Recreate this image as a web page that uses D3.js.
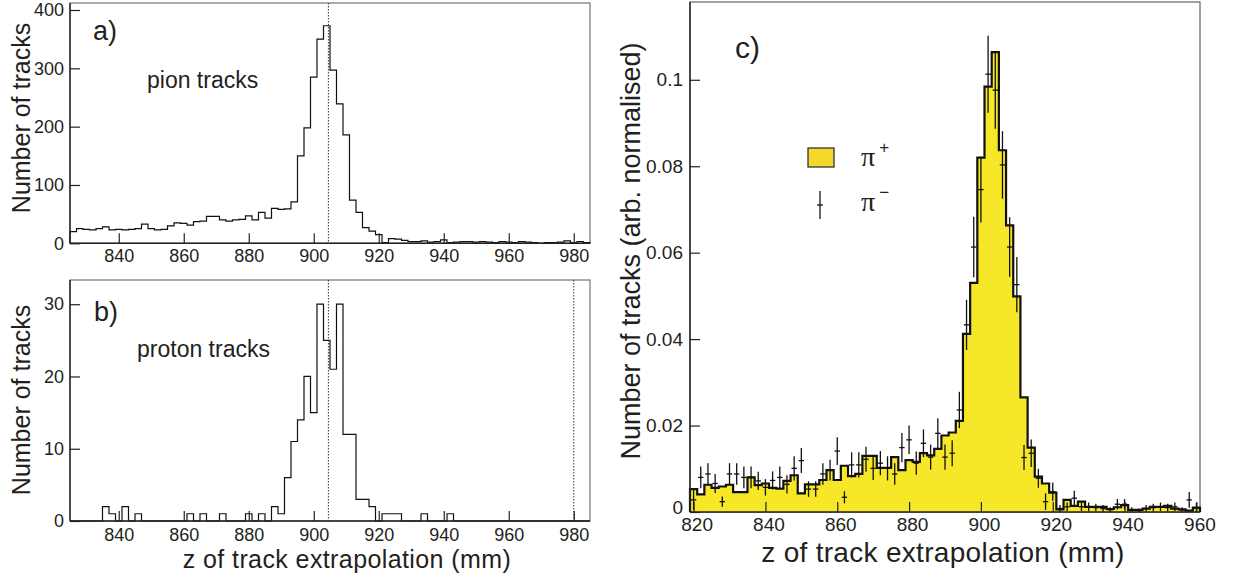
<!DOCTYPE html>
<html>
<head>
<meta charset="utf-8">
<script src="https://cdn.jsdelivr.net/npm/d3@7/dist/d3.min.js"></script>
<style>
    body { margin: 0; background: #fff; }
    text { font-family: "Liberation Sans", Arial, sans-serif; fill: #231f20; }
    .tick line { stroke: #222; stroke-width: 1.2; }
</style>
</head>
<body>
<svg id="chart" width="1235" height="578"></svg>
<script>

///////////  Data  ///////////

// Panels a) and b): 2 mm bins starting at 825 mm
var abBinStart = 825;
var binWidth = 2;

// a) pion tracks per bin
var pionCounts = [20, 25, 24, 23, 25, 28, 23, 24, 23, 24, 25, 33, 25, 23, 24, 30, 35, 34, 31, 37,
    38, 46, 46, 40, 38, 40, 41, 47, 40, 53, 43, 60, 58, 59, 71, 150, 198, 285, 350, 373,
    297, 239, 186, 74, 53, 27, 21, 15, 1, 8, 7, 5, 3, 3, 4, 2, 3, 6, 1, 2,
    3, 3, 2, 3, 2, 1, 3, 2, 1, 3, 2, 1, 0, 1, 1, 2, 4, 1, 3, 1];

// b) proton tracks per bin
var protonCounts = [0, 0, 0, 0, 0, 2, 1, 0, 2, 0, 1, 0, 0, 0, 0, 0, 0, 0, 1, 0,
    1, 0, 0, 1, 0, 0, 0, 1, 0, 1, 0, 2, 1, 6, 11, 14, 20, 15, 30, 25,
    21, 30, 12, 12, 3, 3, 2, 0, 1, 1, 1, 0, 0, 0, 1, 0, 0, 0, 1, 0,
    0, 0, 0, 0, 0, 0, 0, 0, 0, 0, 0, 0, 0, 0, 0, 0, 0, 0, 0, 0];

// Reference positions (dotted lines)
var aMarkers = [904.5];
var bMarkers = [904.5, 980];

// Panel c): 2 mm bins starting at 819 mm
var cBinStart = 819;

var piPlus = [0.0053, 0.0041, 0.0063, 0.0056, 0.0059, 0.0063, 0.0046, 0.0046, 0.0080, 0.0062,
    0.0066, 0.0056, 0.0054, 0.0072, 0.0085, 0.0043, 0.0064, 0.0064, 0.0074, 0.0097,
    0.0074, 0.0107, 0.0083, 0.0088, 0.0130, 0.0130, 0.0102, 0.0102, 0.0127, 0.0097,
    0.0120, 0.0116, 0.0136, 0.0131, 0.0146, 0.0177, 0.0184, 0.0211, 0.0412, 0.0530,
    0.0820, 0.0984, 0.1064, 0.0837, 0.0663, 0.0499, 0.0265, 0.0149, 0.0082, 0.0066,
    0.0045, 0.0006, 0.0028, 0.0014, 0.0024, 0.0012, 0.0012, 0.0012, 0.0007, 0.0011,
    0.0016, 0.0005, 0.0005, 0.0008, 0.0012, 0.0012, 0.0014, 0.0008, 0.0006, 0.0003, 0.0010];

var piMinus = [0.0028, 0.0080, 0.0088, 0.0066, 0.0024, 0.0088, 0.0088, 0.0080, 0.0080, 0.0072,
    0.0057, 0.0073, 0.0080, 0.0064, 0.0101, 0.0119, 0.0053, 0.0053, 0.0088, 0.0097,
    0.0141, 0.0034, 0.0109, 0.0109, 0.0122, 0.0101, 0.0113, 0.0101, 0.0088, 0.0149,
    0.0167, 0.0113, 0.0159, 0.0127, 0.0182, 0.0127, 0.0136, 0.0236, 0.0433, 0.0613,
    0.0746, 0.1013, 0.0976, 0.0803, 0.0613, 0.0526, 0.0126, 0.0136, 0.0078, 0.0024,
    0.0047, 0.0008, 0.0012, 0.0032, 0.0012, 0.0012, 0.0010, 0.0008, 0.0005, 0.0018,
    0.0018, 0.0005, 0.0003, 0.0008, 0.0010, 0.0012, 0.0010, 0.0012, 0.0005, 0.0028, 0.0009];

var piMinusErr = [0.0023, 0.0025, 0.0025, 0.0022, 0.0012, 0.0025, 0.0025, 0.0025, 0.0025, 0.0021,
    0.0019, 0.0021, 0.0025, 0.0021, 0.0028, 0.0029, 0.0018, 0.0018, 0.0025, 0.0024,
    0.0032, 0.0014, 0.0029, 0.0029, 0.0029, 0.0027, 0.0028, 0.0028, 0.0025, 0.0034,
    0.0033, 0.0027, 0.0032, 0.0029, 0.0035, 0.0029, 0.0030, 0.0042, 0.0058, 0.0070,
    0.0076, 0.0089, 0.0089, 0.0078, 0.0069, 0.0064, 0.0029, 0.0032, 0.0022, 0.0019,
    0.0021, 0.0008, 0.0010, 0.0017, 0.0010, 0.0010, 0.0009, 0.0008, 0.0006, 0.0012,
    0.0012, 0.0006, 0.0005, 0.0008, 0.0009, 0.0010, 0.0009, 0.0010, 0.0006, 0.0018, 0.0012];

// Tick values / labels
var abXTicks = [840, 860, 880, 900, 920, 940, 960, 980];
var aYTicks = [0, 100, 200, 300, 400];
var bYTicks = [0, 10, 20, 30];
var cXTicks = [820, 840, 860, 880, 900, 920, 940, 960];
var cYTicks = [0, 0.02, 0.04, 0.06, 0.08, 0.1];
var cYTickLabels = ["0", "0.02", "0.04", "0.06", "0.08", "0.1"];

var xTitle = "z of track extrapolation (mm)";
var yTitle = "Number of tracks";
var cYTitle = "Number of tracks (arb. normalised)";


///////////  SVG  ///////////

var svg = d3.select("#chart");

// Scales (frames in pixels)
var abX = d3.scaleLinear().domain([825, 985]).range([70, 590]);
var aY = d3.scaleLinear().domain([0, 412]).range([243.3, 3]);
var bY = d3.scaleLinear().domain([0, 33.35]).range([521, 280]);
var cX = d3.scaleLinear().domain([819, 961]).range([690, 1200]);
var cY = d3.scaleLinear().domain([0, 0.118]).range([512, 2]);


///////////  Functions  ///////////

// Build outline points of a histogram (bins + closing edge, dropping to 0 at both ends)
function histPoints(values, start)
{
    var pts = [{x: start, v: 0}];
    values.forEach(function(v, i) { pts.push({x: start + i * binWidth, v: v}); });
    var end = start + values.length * binWidth;
    pts.push({x: end, v: values[values.length - 1]});
    pts.push({x: end, v: 0});
    return pts;
}

// Frame box
function drawFrame(xScale, yScale, edgeColor)
{
    var x0 = xScale.range()[0], x1 = xScale.range()[1];
    var y0 = yScale.range()[0], y1 = yScale.range()[1];
    svg.append("rect")
        .attr("x", x0).attr("y", y1)
        .attr("width", x1 - x0).attr("height", y0 - y1)
        .attr("fill", "none").attr("stroke", edgeColor).attr("stroke-width", 1.1);
}

// Inside ticks + labels, darker left/bottom axis lines
function drawAxes(xScale, yScale, xTicks, yTicks, yLabels, fontSize, xPad, yPad, xShift)
{
    var x0 = xScale.range()[0];
    var y0 = yScale.range()[0];

    var bottomAxis = d3.axisBottom(xScale).tickValues(xTicks).tickSize(-10).tickPadding(xPad).tickFormat(d3.format("d"));
    var gx = svg.append("g").attr("transform", `translate(0, ${y0})`).call(bottomAxis);
    gx.select(".domain").remove();
    gx.selectAll("text").style("font-size", fontSize + "px").attr("dx", xShift || 0);

    var leftAxis = d3.axisLeft(yScale).tickValues(yTicks).tickSize(-10).tickPadding(yPad)
        .tickFormat(function(d, i) { return yLabels ? yLabels[i] : d; });
    var gy = svg.append("g").attr("transform", `translate(${x0}, 0)`).call(leftAxis);
    gy.select(".domain").remove();
    gy.selectAll("text").style("font-size", fontSize + "px");

    // axis lines
    svg.append("line").attr("x1", x0).attr("x2", x0)
        .attr("y1", yScale.range()[1]).attr("y2", y0)
        .attr("stroke", "#222").attr("stroke-width", 1.4);
    svg.append("line").attr("x1", x0).attr("x2", xScale.range()[1])
        .attr("y1", y0).attr("y2", y0)
        .attr("stroke", "#222").attr("stroke-width", 1.4);

    return gy;
}

function drawMarkers(xScale, yScale, markers)
{
    svg.selectAll(null).data(markers).enter().append("line")
        .attr("x1", d => xScale(d)).attr("x2", d => xScale(d))
        .attr("y1", yScale.range()[1]).attr("y2", yScale.range()[0])
        .attr("stroke", "#333").attr("stroke-width", 1)
        .attr("stroke-dasharray", "1.5,1.5");
}

function drawOutline(xScale, yScale, values, start, width)
{
    var line = d3.line().curve(d3.curveStepAfter)
        .x(d => xScale(d.x)).y(d => yScale(d.v));
    svg.append("path").datum(histPoints(values, start))
        .attr("d", line)
        .attr("fill", "none").attr("stroke", "#111").attr("stroke-width", width);
}

function addText(x, y, str, size, anchor, rotate)
{
    var t = svg.append("text")
        .attr("x", x).attr("y", y)
        .style("font-size", size + "px")
        .attr("text-anchor", anchor || "start")
        .text(str);
    if (rotate)
    {
        t.attr("transform", `rotate(-90, ${x}, ${y})`);
    }
    return t;
}


///////////  Panel a) pion tracks  ///////////

drawFrame(abX, aY, "#666");
drawMarkers(abX, aY, aMarkers);
drawOutline(abX, aY, pionCounts, abBinStart, 1.2);
drawAxes(abX, aY, abXTicks, aYTicks, null, 18, 6, 6, 0);
addText(93, 40, "a)", 27);
addText(147, 88, "pion tracks", 23);
addText(30, 118, yTitle, 25, "middle", true);


///////////  Panel b) proton tracks  ///////////

drawFrame(abX, bY, "#666");
drawMarkers(abX, bY, bMarkers);
drawOutline(abX, bY, protonCounts, abBinStart, 1.2);
drawAxes(abX, bY, abXTicks, bYTicks, null, 18, 7, 6, 0);
addText(94, 321, "b)", 27);
addText(137, 357, "proton tracks", 23);
addText(30, 400, yTitle, 25, "middle", true);
addText(347, 568, xTitle, 25, "middle").style("letter-spacing", "0.4px");


///////////  Panel c) pi+ / pi-  ///////////

drawFrame(cX, cY, "#555");

// pi+ filled histogram
var area = d3.area().curve(d3.curveStepAfter)
    .x(d => cX(d.x)).y0(cY(0)).y1(d => cY(d.v));
svg.append("path").datum(histPoints(piPlus, cBinStart))
    .attr("d", area).attr("fill", "#f6e729");
drawOutline(cX, cY, piPlus, cBinStart, 2.2);

// pi- points with error bars
var piMinusData = piMinus.map(function(v, i) { return {x: cBinStart + i * binWidth, v: v, e: piMinusErr[i]}; });
var crosses = svg.append("g").attr("stroke", "#111").attr("stroke-width", 1.3);
crosses.selectAll(".vbar").data(piMinusData).enter().append("line")
    .attr("class", "vbar")
    .attr("x1", d => cX(d.x + binWidth / 2)).attr("x2", d => cX(d.x + binWidth / 2))
    .attr("y1", d => cY(Math.max(d.v - d.e, 0))).attr("y2", d => cY(d.v + d.e));
crosses.selectAll(".hbar").data(piMinusData).enter().append("line")
    .attr("class", "hbar")
    .attr("x1", d => cX(d.x + 0.25)).attr("x2", d => cX(d.x + binWidth - 0.25))
    .attr("y1", d => cY(d.v)).attr("y2", d => cY(d.v));

var cYAxis = drawAxes(cX, cY, cXTicks, cYTicks, cYTickLabels, 19, 6, 7, 3);
// lift the "0" label a little so it clears the 820 label
cYAxis.selectAll("text").filter(d => d === 0).attr("dy", "0.1em");

addText(735, 58, "c)", 30);
addText(640, 251, cYTitle, 27, "middle", true);
addText(943, 562, xTitle, 28, "middle").style("letter-spacing", "0.3px");

// Legend
svg.append("rect").attr("x", 808).attr("y", 148).attr("width", 26).attr("height", 19)
    .attr("fill", "#f5d82a").attr("stroke", "#333").attr("stroke-width", 1.3);
svg.append("line").attr("x1", 820).attr("x2", 820).attr("y1", 191).attr("y2", 219)
    .attr("stroke", "#111").attr("stroke-width", 1.3);
svg.append("line").attr("x1", 817).attr("x2", 823).attr("y1", 205).attr("y2", 205)
    .attr("stroke", "#111").attr("stroke-width", 1.3);

var leg1 = addText(861, 166, "π", 28).style("font-family", "'Liberation Serif', serif");
leg1.append("tspan").attr("dx", 4).attr("dy", -13).style("font-size", "17px")
    .style("font-family", "'Liberation Sans', sans-serif").text("+");
var leg2 = addText(861, 211, "π", 28).style("font-family", "'Liberation Serif', serif");
leg2.append("tspan").attr("dx", 4).attr("dy", -13).style("font-size", "17px")
    .style("font-family", "'Liberation Sans', sans-serif").text("−");

</script>
</body>
</html>
